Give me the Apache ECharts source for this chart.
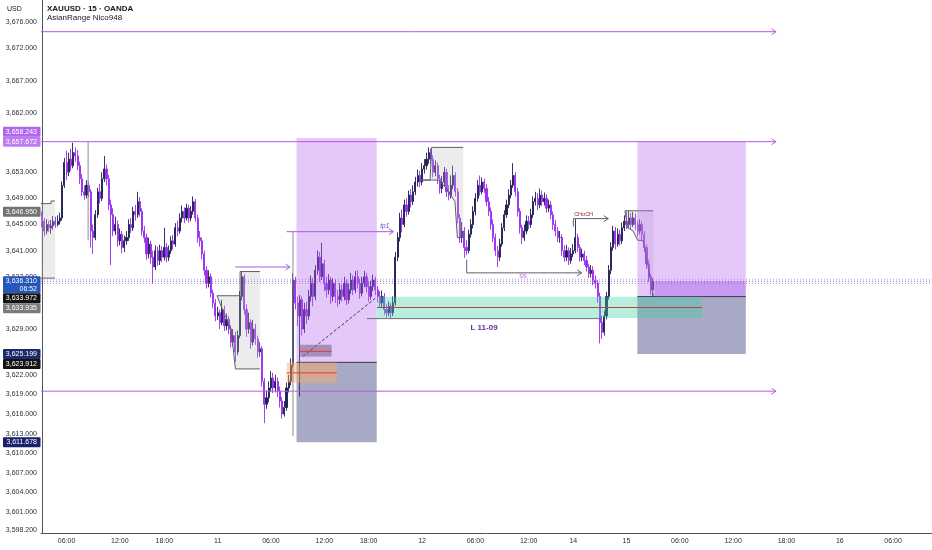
<!DOCTYPE html>
<html>
<head>
<meta charset="utf-8">
<title>XAUUSD 15 OANDA</title>
<script src="https://cdn.jsdelivr.net/npm/echarts@6.0.0/dist/echarts.min.js"></script>
<style>
html,body{margin:0;padding:0;background:#ffffff;}
#chart{width:932px;height:550px;}
</style>
</head>
<body>
<div id="chart"></div>
<script>
// ================= DATA =================
const slotCount = 401; // 15-minute slots shown on the time axis
const xTickLabels = [[11,'06:00'],[35,'12:00'],[55,'18:00'],[79,'11'],[103,'06:00'],[127,'12:00'],[147,'18:00'],[171,'12'],[195,'06:00'],[219,'12:00'],[239,'14'],[263,'15'],[287,'06:00'],[311,'12:00'],[335,'18:00'],[359,'16'],[383,'06:00']];
const yTickValues = [3676,3672,3667,3662,3653,3649,3645,3641,3637,3629,3622,3619,3616,3613,3610,3607,3604,3601,3598.2];

const opens = [
3646.2,3645.5,3644,3645,3644.5,3644.8,3645.5,3645,3645.5,3646,
3651,3654.5,3653,3655,3654,3656,3655.5,3654,3652,3650,
3649.5,3651,3650,3644,3643,3646.5,3650,3649,3652,3653.5,
3652,3648,3646.5,3644,3645,3642.5,3643.5,3641.5,3642.5,3643,
3645,3644.5,3647,3646.5,3648.5,3647,3644,3643,3640.5,3642,
3640,3638.5,3641,3639.5,3641,3640,3641.5,3640,3641,3642.5,
3642,3644.5,3644,3646,3647,3646,3647.5,3646,3647,3648.5,
3646,3643,3642.5,3640.5,3638,3636,3637,3634.5,3633,3631,
3631.5,3630,3632,3629.5,3630.5,3629,3627,3628,3625.5,3628,
3634,3637,3632,3629,3630,3627,3629,3627.5,3625.5,3626,
3621,3617.5,3618.5,3620,3621.5,3620,3621,3619.5,3618,3616,
3617,3620,3621,3623.5,3636.5,3633,3631,3633.5,3629,3632,
3631,3634,3636,3634,3638,3640,3637,3639,3636,3635,
3636.5,3634,3636,3634,3633.5,3635,3634,3636,3633.5,3635,
3636.5,3635,3637,3636,3634.5,3636,3637,3635.5,3634,3635.5,
3636.5,3635,3634,3633,3634,3632,3631.5,3632.5,3631.5,3633,
3640,3643,3646,3645,3648,3647,3649.5,3648.5,3650,3651.5,
3652.5,3651.5,3653.5,3654,3655,3656,3655,3653,3654,3652,
3650.5,3651.5,3653,3650,3649.5,3651,3652.5,3650,3646,3643,
3644,3641.5,3641,3643.5,3645,3647,3649,3651,3650,3651.5,
3650.5,3648.5,3647,3645,3643,3641,3640,3642,3644.5,3646.5,
3648,3649.5,3651,3652.5,3650,3647,3644.5,3643,3644,3645.5,
3645,3646.5,3648.5,3649,3648,3649.5,3648.5,3649,3647.5,3648,
3646.5,3645,3644,3643,3643,3641,3640,3641,3639.5,3640.5,
3641,3643,3641.5,3640,3640.5,3639.5,3638.5,3637.5,3638,3636.5,
3636,3634,3630,3628.5,3631,3634,3638,3641.5,3644,3642,
3643.5,3642.5,3644.5,3645.5,3645,3646,3645,3646,3645,3644,
3645,3643.5,3641.5,3639,3637,3635
];
const closes = [
3645.5,3644,3645,3644.5,3644.8,3645.5,3645,3645.5,3646,3651,
3654.5,3653,3655,3654,3656,3655.5,3654,3652,3650,3649.5,
3651,3650,3644,3643,3646.5,3650,3649,3652,3653.5,3652,
3648,3646.5,3644,3645,3642.5,3643.5,3641.5,3642.5,3643,3645,
3644.5,3647,3646.5,3648.5,3647,3644,3643,3640.5,3642,3640,
3638.5,3641,3639.5,3641,3640,3641.5,3640,3641,3642.5,3642,
3644.5,3644,3646,3647,3646,3647.5,3646,3647,3648.5,3646,
3643,3642.5,3640.5,3638,3636,3637,3634.5,3633,3631,3631.5,
3630,3632,3629.5,3630.5,3629,3627,3628,3625.5,3628,3634,
3637,3632,3629,3630,3627,3629,3627.5,3625.5,3626,3621,
3617.5,3618.5,3620,3621.5,3620,3621,3619.5,3618,3616,3617,
3620,3621,3623.5,3636.5,3633,3631,3633.5,3629,3632,3631,
3634,3636,3634,3638,3640,3637,3639,3636,3635,3636.5,
3634,3636,3634,3633.5,3635,3634,3636,3633.5,3635,3636.5,
3635,3637,3636,3634.5,3636,3637,3635.5,3634,3635.5,3636.5,
3635,3634,3633,3634,3632,3631.5,3632.5,3631.5,3633,3640,
3643,3646,3645,3648,3647,3649.5,3648.5,3650,3651.5,3652.5,
3651.5,3653.5,3654,3655,3656,3655,3653,3654,3652,3650.5,
3651.5,3653,3650,3649.5,3651,3652.5,3650,3646,3643,3644,
3641.5,3641,3643.5,3645,3647,3649,3651,3650,3651.5,3650.5,
3648.5,3647,3645,3643,3641,3640,3642,3644.5,3646.5,3648,
3649.5,3651,3652.5,3650,3647,3644.5,3643,3644,3645.5,3645,
3646.5,3648.5,3649,3648,3649.5,3648.5,3649,3647.5,3648,3646.5,
3645,3644,3643,3643,3641,3640,3641,3639.5,3640.5,3641,
3643,3641.5,3640,3640.5,3639.5,3638.5,3637.5,3638,3636.5,3636,
3634,3630,3628.5,3631,3634,3638,3641.5,3644,3642,3643.5,
3642.5,3644.5,3645.5,3645,3646,3645,3646,3645,3644,3645,
3643.5,3641.5,3639,3637,3635,3636.31
];
const lows = [
3644.6,3643.2,3643.5,3643.9,3643.6,3644.2,3644.5,3644.7,3645,3645.6,
3650.6,3651.8,3652.4,3653.2,3653.6,3654.6,3653.3,3651.2,3649.3,3648.8,
3649,3649.2,3641.5,3640.5,3642.6,3646,3648.2,3648.6,3651.5,3651,
3647.2,3638.8,3643.2,3643.4,3641.6,3641.8,3640.6,3640.8,3641.9,3642.5,
3643.7,3644,3645.6,3646,3646.2,3643.3,3642.2,3639.6,3639.8,3639,
3636,3638,3638.7,3638.8,3639.2,3639.5,3639.2,3639.4,3640.5,3641.2,
3641.6,3643.2,3643.6,3645.3,3645.2,3645.6,3645.3,3645.5,3646.5,3645.4,
3642.2,3641.6,3639.7,3637.2,3635.2,3635.4,3633.8,3632.2,3630.2,3630.4,
3629,3629.6,3628.7,3628.8,3628.2,3626.2,3626.4,3624,3625,3627.6,
3633.4,3631.2,3627.8,3628.3,3626,3626.5,3626.6,3624.6,3624.8,3620.2,
3614.6,3616.8,3617.8,3619.4,3619.2,3619.3,3618.6,3617,3615.3,3615.6,
3616.5,3619.3,3620.4,3623,3632,3629.5,3618.7,3628,3628.4,3629.8,
3630.4,3633.2,3632.5,3633.4,3637.3,3636.2,3636.5,3634.8,3633.8,3634.3,
3632.8,3633.2,3633,3632.4,3632.8,3633.2,3633.4,3632.7,3632.9,3634.4,
3634.2,3634.5,3635.2,3633.6,3634,3635.4,3634.6,3633.2,3633.5,3634.8,
3634.2,3633.1,3632.3,3632.4,3631.2,3630.8,3631,3630.6,3631,3632.6,
3639.4,3642.4,3643.8,3644.6,3646.2,3646.5,3647.6,3648,3649.5,3650.8,
3650.7,3651,3652.8,3653.4,3654.3,3654.2,3652.2,3652.4,3651.2,3649.7,
3649.8,3650.9,3649.2,3648.7,3649,3650.4,3649.3,3645.2,3642.2,3642.2,
3639.9,3640.3,3640.6,3643,3644.4,3646.4,3648.5,3649.4,3649.6,3649.8,
3647.8,3646.3,3644.2,3642.3,3640.2,3638.5,3639.4,3641.6,3644,3646,
3647.5,3649,3650.6,3649.3,3646.2,3643.6,3642,3642.5,3643.5,3644.3,
3644.5,3646,3647.9,3647.2,3647.5,3647.8,3647.9,3646.8,3646.9,3645.8,
3644.2,3643.2,3642.3,3642.2,3640.2,3639.3,3639.4,3638.8,3639,3640,
3640.6,3640.8,3639.3,3639.4,3638.8,3637.8,3636.8,3636.9,3635.7,3635.2,
3633,3626.8,3627.5,3628,3630.5,3633.5,3637.4,3641,3641.2,3641.6,
3641.8,3642,3644,3644.3,3644.5,3644.2,3644.6,3644.2,3643.2,3643.5,
3642.6,3640.8,3638.2,3636.2,3634.2,3634
];
const highs = [
3647,3646,3645.8,3645.6,3645.7,3646.3,3646.2,3646.4,3646.8,3651.6,
3655.2,3656.3,3656,3656.6,3657.5,3656.8,3656.4,3654.6,3652.7,3651,
3651.8,3651.6,3650.4,3645,3647.2,3650.6,3651.2,3653,3655.5,3654.2,
3652.6,3648.8,3647.5,3646.2,3645.6,3644.4,3644,3643.3,3644,3645.8,
3646,3647.7,3648,3650,3649.2,3647.5,3644.8,3643.6,3643,3642.5,
3641,3641.8,3641.6,3641.9,3641.7,3644.5,3642.2,3641.8,3643.2,3643.4,
3645.2,3645.6,3646.7,3647.9,3647.6,3648.2,3648,3647.8,3649.3,3648.9,
3646.5,3644,3643,3641,3638.6,3638,3637.5,3635,3633.6,3632.4,
3632,3633.5,3632.6,3631.4,3631,3629.6,3629,3628.6,3628.8,3634.8,
3637.8,3637.4,3632.8,3631.5,3630.5,3630.4,3629.8,3628,3627,3626.4,
3621.5,3619.6,3621,3622.6,3622.3,3622,3621.6,3620.2,3618.6,3618,
3620.8,3622,3624.5,3637.5,3637,3634,3634.2,3634,3633,3633.2,
3635,3637.2,3636.8,3638.8,3641,3640.8,3642.2,3639.6,3637,3637.4,
3637,3636.8,3636.6,3635,3636,3635.8,3637,3636.6,3636,3637.6,
3637.2,3637.9,3638,3636.7,3637,3637.9,3637.6,3636.2,3636.4,3637.3,
3637,3635.6,3634.8,3634.9,3634.5,3632.8,3633.2,3633,3634,3640.8,
3643.8,3646.8,3647.3,3648.8,3649,3650.2,3650.4,3651,3652.3,3653.4,
3653.2,3654.4,3655,3656,3656.8,3656.6,3655.6,3654.8,3654.5,3652.6,
3652.4,3653.8,3653.5,3651,3652.5,3654,3653,3650.6,3646.6,3645.4,
3644.6,3642.6,3644.2,3645.8,3647.8,3649.8,3651.8,3652.5,3652.2,3652,
3651.2,3649.2,3647.6,3645.8,3643.6,3641.7,3642.8,3645.2,3647.2,3648.8,
3650.4,3651.8,3654.4,3653,3650.6,3647.5,3645,3645,3646.4,3646.3,
3647.4,3649.3,3650,3649.8,3650.5,3650.2,3649.9,3649.6,3648.8,3648.6,
3647,3645.7,3644.6,3644,3643.5,3641.8,3641.9,3641.5,3641.4,3642,
3645.8,3643.6,3642,3641.3,3641,3640.2,3639,3638.8,3638.6,3637.2,
3636.5,3634.6,3631,3631.8,3634.7,3638.8,3642.3,3644.8,3644.6,3644.4,
3644.2,3645.3,3646.4,3647,3647.1,3646.8,3646.9,3646.7,3645.6,3645.8,
3645.5,3644,3642,3639.6,3637.5,3636.8
];

// drawings (x in slot units, y in price)
const levelRays = [3674.5, 3657.672, 3619.5];
const levelRaySpan = [-0.5, 330.3];
// [start, end, stop, entry, target]
const positionTools = [
  [114.5, 150.6, 3611.678, 3623.912, 3658.243],
  [267.9, 316.7, 3625.199, 3633.972, 3657.672]
];
const openPnl = [275.6, 316.7, 3633.972, 3636.31];
const tradePath = [[117.3, 3624.8], [150.6, 3633.9]];
const demandZone = [150.7, 297.0, 3630.7, 3633.935];
const demandMid = 3632.3;
const demandBase = [146.2, 251.3, 3630.6];
const demandText = ['L 11-09', 198.9, 3629.2];
// [start, end, low, high, mid]
const orderBlocks = [
  [110.1, 132.6, 3620.8, 3623.9, 3622.3],
  [116.1, 130.3, 3624.8, 3626.6, 3625.6]
];
const asianTops = [
  [[-0.5,3648.2],[4,3648.2],[4,3648.6],[5.8,3648.6]],
  [[78.7,3634.1],[89.1,3634.1],[89.1,3637.8],[98.1,3637.8]],
  [[170.1,3651.8],[174.6,3651.8],[175.3,3656.8],[189.5,3656.8]],
  [[262.3,3647.1],[275.1,3647.1]]
];
const asianBottoms = [
  [[-0.5,3636.8],[5.8,3636.8]],
  [[78.7,3634.1],[80,3633],[83,3630.5],[85,3629],[86,3626],[87,3622.9],[98.1,3622.9]],
  [[170.1,3651.8],[178.3,3651.8],[182,3650.5],[185.8,3648.5],[186.9,3643],[189.5,3643]],
  [[262.3,3647.1],[263.5,3644.5],[266,3644],[268,3642.6],[270.6,3642.5],[272,3640],[273.5,3637],[275.1,3634]]
];
// [start, end, price]
const arrowRays = [[86.9, 111.6, 3638.5], [110.1, 158.1, 3643.9]];
const tp1Text = ['tp1', 154.2, 3644.8];
const ssPath = [[191.1, 3639.6], [191.1, 3637.6], [242.8, 3637.6]];
const ssText = ['SS', 216.4, 3637.0];
const chochPath = [[239.1, 3644.7], [239.1, 3645.9], [254.8, 3645.9]];
const chochText = ['CHoCH', 243.7, 3646.6];
// [slot, low, high]
const verticals = [[20.7, 3642.6, 3657.7], [112.9, 3612.6, 3643.9]];
const lastPriceLines = [3636.62, 3636.31, 3636.0];

// axis price tags (priority order)
const tagPrices = [3657.672, 3636.31, 3625.199, 3646.95, 3611.678, 3658.243, 3633.972, 3633.935, 3623.912];
const tagNotes  = ['', '06:52', '', '', '', '', '', '', ''];

// ================= STYLE =================
const tagColors = ['#be7cf1', '#2457b9', '#1d2a6c', '#737373', '#19216a', '#b066ed', '#131313', '#7b7b7b', '#131313'];
const FONT = "'Liberation Sans', Arial, sans-serif";
const bullColor = '#1d1f4f';
const bearColor = '#9a2cf0';

function fmt(v) {
  const s = v.toFixed(3).split('.');
  return s[0].replace(/\B(?=(\d{3})+(?!\d))/g, ',') + '.' + s[1];
}

const categories = Array.from({length: slotCount}, (_, i) => String(i));
const tickMap = new Map(xTickLabels);
const candleData = closes.map((c, i) => [opens[i], c, lows[i], highs[i]]);

function underLayer(params, api) {
  const out = [];
  const cols = ['#f095b8', '#5b7fdc', '#a58be6'];
  lastPriceLines.forEach((p, k) => {
    const a = api.coord([-0.5, p]), b = api.coord([400.5, p]);
    out.push({type:'line', shape:{x1:a[0], y1:a[1], x2:b[0], y2:b[1]}, style:{stroke: cols[k], lineWidth: 1, lineDash: [1, 2]}});
  });
  return {type:'group', children: out};
}

function drawLayer(params, api) {
  const P = (x, y) => api.coord([x, y]);
  const out = [];
  const box = (x0, x1, lo, hi, fill) => {
    const a = P(x0, hi), b = P(x1, lo);
    out.push({type:'rect', shape:{x:a[0], y:a[1], width:b[0]-a[0], height:b[1]-a[1]}, style:{fill: fill}});
  };
  const line = (pts, stroke, w, dash) => out.push({type:'polyline', shape:{points: pts.map(p => P(p[0], p[1]))}, style:{stroke: stroke, lineWidth: w || 1, fill: null, lineDash: dash || null}});
  const chevron = (x, y, stroke) => {
    const p = P(x, y);
    out.push({type:'polyline', shape:{points:[[p[0]-4.5, p[1]-3], [p[0], p[1]], [p[0]-4.5, p[1]+3]]}, style:{stroke: stroke, lineWidth: 1, fill: null}});
  };
  const text = (t, x, y, color, font) => {
    const p = P(x, y);
    out.push({type:'text', x: p[0], y: p[1], style:{text: t, fill: color, font: font, align: 'center', verticalAlign: 'middle'}});
  };

  // Asian ranges
  asianTops.forEach((top, k) => {
    const bot = asianBottoms[k];
    const poly = top.concat(bot.slice().reverse()).map(p => P(p[0], p[1]));
    out.push({type:'polygon', shape:{points: poly}, style:{fill:'rgba(185,185,192,0.28)'}});
    line(top, '#5d5f66', 1);
    line(bot, '#5d5f66', 1);
  });

  // position tools
  positionTools.forEach(t => {
    box(t[0], t[1], t[3], t[4], 'rgba(179,102,240,0.36)');
    box(t[0], t[1], t[2], t[3], 'rgba(55,60,122,0.44)');
    line([[t[0], t[3]], [t[1], t[3]]], '#34364a', 1);
  });
  box(openPnl[0], openPnl[1], openPnl[2], openPnl[3], 'rgba(150,60,225,0.32)');
  line(tradePath, '#3a3c50', 1, [3, 2]);

  // order blocks
  orderBlocks.forEach((b, k) => {
    box(b[0], b[1], b[2], b[3], k === 0 ? 'rgba(255,168,95,0.45)' : 'rgba(105,85,118,0.5)');
    line([[b[0], b[4]], [b[1], b[4]]], '#e53a2c', 1);
  });

  // demand zone
  box(demandZone[0], demandZone[1], demandZone[2], demandZone[3], 'rgba(70,208,165,0.38)');
  line([[demandZone[0], demandMid], [demandZone[1], demandMid]], '#b5473a', 1);
  line([[demandBase[0], demandBase[2]], [demandBase[1], demandBase[2]]], '#6a6d78', 1);
  text(demandText[0], demandText[1], demandText[2], '#5e2fa3', "bold 8px " + FONT);

  // level rays
  levelRays.forEach(p => {
    line([[levelRaySpan[0], p], [levelRaySpan[1], p]], '#b458e6', 1);
    chevron(levelRaySpan[1], p, '#b458e6');
  });
  arrowRays.forEach(r => {
    line([[r[0], r[2]], [r[1], r[2]]], '#a85ae0', 1);
    chevron(r[1], r[2], '#a85ae0');
  });
  text(tp1Text[0], tp1Text[1], tp1Text[2], '#7b3fc4', "italic 6.5px " + FONT);

  // structure marks
  line(ssPath, '#5c6070', 1);
  chevron(ssPath[2][0], ssPath[2][1], '#5c6070');
  text(ssText[0], ssText[1], ssText[2], '#c24ed6', "5.5px " + FONT);
  line(chochPath, '#5c6070', 1);
  chevron(chochPath[2][0], chochPath[2][1], '#5c6070');
  text(chochText[0], chochText[1], chochText[2], '#8e1f1f', "5.5px " + FONT);

  verticals.forEach(v => line([[v[0], v[1]], [v[0], v[2]]], '#8a8c96', 1));

  return {type:'group', children: out};
}

function tagLayer(params, api) {
  const out = [];
  const left = api.coord([-0.5, 3640])[0];
  const placed = [];
  tagPrices.forEach((p, k) => {
    const yc = api.coord([0, p])[1];
    const h = tagNotes[k] ? 17 : 10;
    let top = yc - 5, bottom = top + h;
    let guard = 0, moved = true;
    while (moved && guard++ < 20) {
      moved = false;
      for (const q of placed) {
        if (top < q.bottom - 0.01 && bottom > q.top + 0.01) {
          if (yc < q.ideal) { bottom = q.top; top = bottom - h; }
          else { top = q.bottom; bottom = top + h; }
          moved = true;
        }
      }
    }
    placed.push({top: top, bottom: bottom, ideal: yc});
    out.push({type:'rect', shape:{x: left - 38, y: top, width: 37.5, height: h, r: 1}, style:{fill: tagColors[k]}});
    out.push({type:'text', x: left - 4, y: top + 5, style:{text: fmt(p), fill:'#ffffff', font: "7px " + FONT, align:'right', verticalAlign:'middle'}});
    if (tagNotes[k]) {
      out.push({type:'text', x: left - 4, y: top + 12.5, style:{text: tagNotes[k], fill:'#ffffff', font: "7px " + FONT, align:'right', verticalAlign:'middle'}});
    }
  });
  return {type:'group', children: out};
}

const chart = echarts.init(document.getElementById('chart'), null, {renderer: 'canvas'});
chart.setOption({
  animation: false,
  backgroundColor: '#ffffff',
  textStyle: {fontFamily: FONT},
  title: {
    text: 'XAUUSD · 15 · OANDA',
    subtext: 'AsianRange Nico948',
    left: 47, top: 5, padding: 0, itemGap: 1,
    textStyle: {fontSize: 8, fontWeight: 'bold', color: '#131722', fontFamily: FONT},
    subtextStyle: {fontSize: 8, color: '#131722', fontFamily: FONT}
  },
  graphic: [{type:'text', left: 7, top: 6, style:{text:'USD', fill:'#131722', font: "7px " + FONT}}],
  grid: {left: 41, right: 0, top: 0, bottom: 17, containLabel: false},
  xAxis: [
    {
      type: 'category', data: categories, boundaryGap: true,
      axisLine: {lineStyle: {color: '#50535e', width: 1}},
      axisTick: {show: false},
      splitLine: {show: false},
      axisLabel: {
        interval: (idx) => tickMap.has(idx),
        formatter: (val, idx) => tickMap.get(Number(val)) || '',
        fontSize: 7, color: '#2a2e39', margin: 5, fontFamily: FONT
      }
    },
    {type: 'value', min: -0.5, max: 400.5, show: false}
  ],
  yAxis: {
    type: 'value', min: 3597.8, max: 3679.35, position: 'left',
    axisLine: {show: true, lineStyle: {color: '#50535e', width: 1}},
    axisTick: {show: false},
    splitLine: {show: false},
    axisLabel: {customValues: yTickValues, formatter: fmt, fontSize: 7, color: '#2a2e39', margin: 4, fontFamily: FONT}
  },
  series: [
    {type: 'custom', xAxisIndex: 1, yAxisIndex: 0, silent: true, z: 1, data: [[0, 3640]], renderItem: underLayer},
    {
      type: 'candlestick', xAxisIndex: 0, yAxisIndex: 0, z: 2, data: candleData,
      barWidth: 1.6,
      itemStyle: {color: bullColor, color0: bearColor, borderColor: bullColor, borderColor0: bearColor, borderWidth: 0.9}
    },
    {type: 'custom', xAxisIndex: 1, yAxisIndex: 0, silent: true, z: 3, data: [[0, 3640]], renderItem: drawLayer},
    {type: 'custom', xAxisIndex: 1, yAxisIndex: 0, silent: true, z: 10, clip: false, data: [[0, 3640]], renderItem: tagLayer}
  ]
});
</script>
</body>
</html>
